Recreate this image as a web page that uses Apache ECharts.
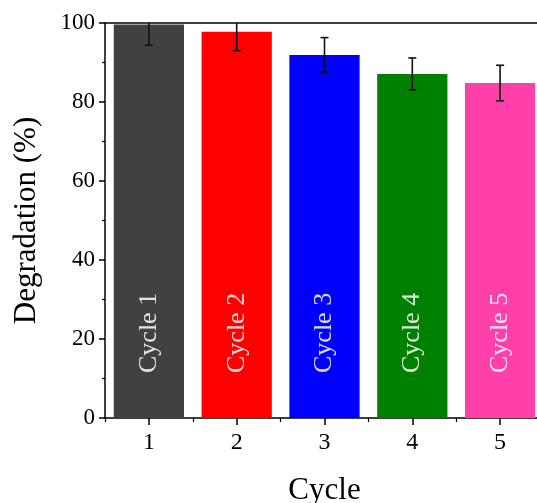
<!DOCTYPE html>
<html>
<head>
<meta charset="utf-8">
<script src="https://cdn.jsdelivr.net/npm/echarts@6/dist/echarts.min.js"></script>
<style>
html,body{margin:0;padding:0;background:#fff;}
#chart{width:537px;height:503px;}
</style>
</head>
<body>
<div id="chart"></div>
<script>
const categories = ['1', '2', '3', '4', '5'];
const barLabels = ['Cycle 1', 'Cycle 2', 'Cycle 3', 'Cycle 4', 'Cycle 5'];
const degradation = [99.6, 97.8, 91.9, 87.1, 84.8];
const errors = [5.2, 4.8, 4.4, 4.05, 4.5];
const barColors = ['#414141', '#FF0000', '#0000FF', '#008000', '#FF3FAA'];
const yTicks = [0, 20, 40, 60, 80, 100];

const FONT = 'Liberation Serif';

const barData = degradation.map((v, i) => ({
  value: v,
  itemStyle: { color: barColors[i] }
}));
const errData = degradation.map((v, i) => [i, v - errors[i], v + errors[i]]);

const chart = echarts.init(document.getElementById('chart'), null, { renderer: 'canvas' });
chart.setOption({
  animation: false,
  backgroundColor: '#fff',
  grid: { left: 105, top: 23, width: 439, bottom: 85, containLabel: false, outerBoundsMode: 'none' },
  xAxis: [
    {
      type: 'category', data: categories, position: 'bottom',
      axisLine: { show: true, lineStyle: { color: '#000', width: 1.5 } },
      axisTick: { show: true, alignWithLabel: true, inside: false, length: 7, lineStyle: { color: '#000', width: 1.5 } },
      axisLabel: { show: true, margin: 13, fontSize: 24, fontFamily: FONT, color: '#000' },
      splitLine: { show: false },
      name: 'Cycle', nameLocation: 'middle', nameGap: 57,
      nameTextStyle: { fontSize: 31, fontFamily: FONT, color: '#000' }
    },
    {
      type: 'category', data: categories, position: 'bottom',
      axisLine: { show: false },
      axisTick: { show: true, alignWithLabel: false, inside: false, length: 4, lineStyle: { color: '#000', width: 1.2 } },
      axisLabel: { show: false },
      splitLine: { show: false }
    },
    {
      type: 'category', data: categories, position: 'top',
      axisLine: { show: true, lineStyle: { color: '#000', width: 1.5 } },
      axisTick: { show: false },
      axisLabel: { show: false },
      splitLine: { show: false }
    }
  ],
  yAxis: [
    {
      type: 'value', min: yTicks[0], max: yTicks[yTicks.length - 1], interval: 20,
      axisLine: { show: true, lineStyle: { color: '#000', width: 1.5 } },
      axisTick: { show: true, inside: false, length: 6, lineStyle: { color: '#000', width: 1.5 } },
      minorTick: { show: true, splitNumber: 2, length: 3, lineStyle: { color: '#000', width: 1.2 } },
      axisLabel: { show: true, margin: 10, fontSize: 23, fontFamily: FONT, color: '#000' },
      splitLine: { show: false },
      name: 'Degradation (%)', nameLocation: 'middle', nameGap: 63,
      nameTextStyle: { fontSize: 31, fontFamily: FONT, color: '#000' }
    }
  ],
  series: [
    {
      type: 'bar', xAxisIndex: 0, yAxisIndex: 0,
      data: barData, barWidth: '80%',
      label: {
        show: true,
        position: 'insideBottom',
        distance: 45,
        rotate: 90,
        align: 'left',
        verticalAlign: 'middle',
        fontSize: 26,
        fontFamily: FONT,
        color: 'rgba(255,255,255,0.85)',
        formatter: p => barLabels[p.dataIndex]
      }
    },
    {
      type: 'custom', xAxisIndex: 0, yAxisIndex: 0,
      clip: true,
      data: errData,
      encode: { x: 0, y: [1, 2] },
      z: 5,
      renderItem: function (params, api) {
        const idx = api.value(0);
        const lo = api.coord([idx, api.value(1)]);
        const hi = api.coord([idx, api.value(2)]);
        const cap = 4;
        const style = { stroke: '#111', lineWidth: 1.6 };
        return {
          type: 'group',
          children: [
            { type: 'line', shape: { x1: lo[0], y1: lo[1], x2: hi[0], y2: hi[1] }, style: style },
            { type: 'line', shape: { x1: lo[0] - cap, y1: lo[1], x2: lo[0] + cap, y2: lo[1] }, style: style },
            { type: 'line', shape: { x1: hi[0] - cap, y1: hi[1], x2: hi[0] + cap, y2: hi[1] }, style: style }
          ]
        };
      }
    }
  ]
});
</script>
</body>
</html>
